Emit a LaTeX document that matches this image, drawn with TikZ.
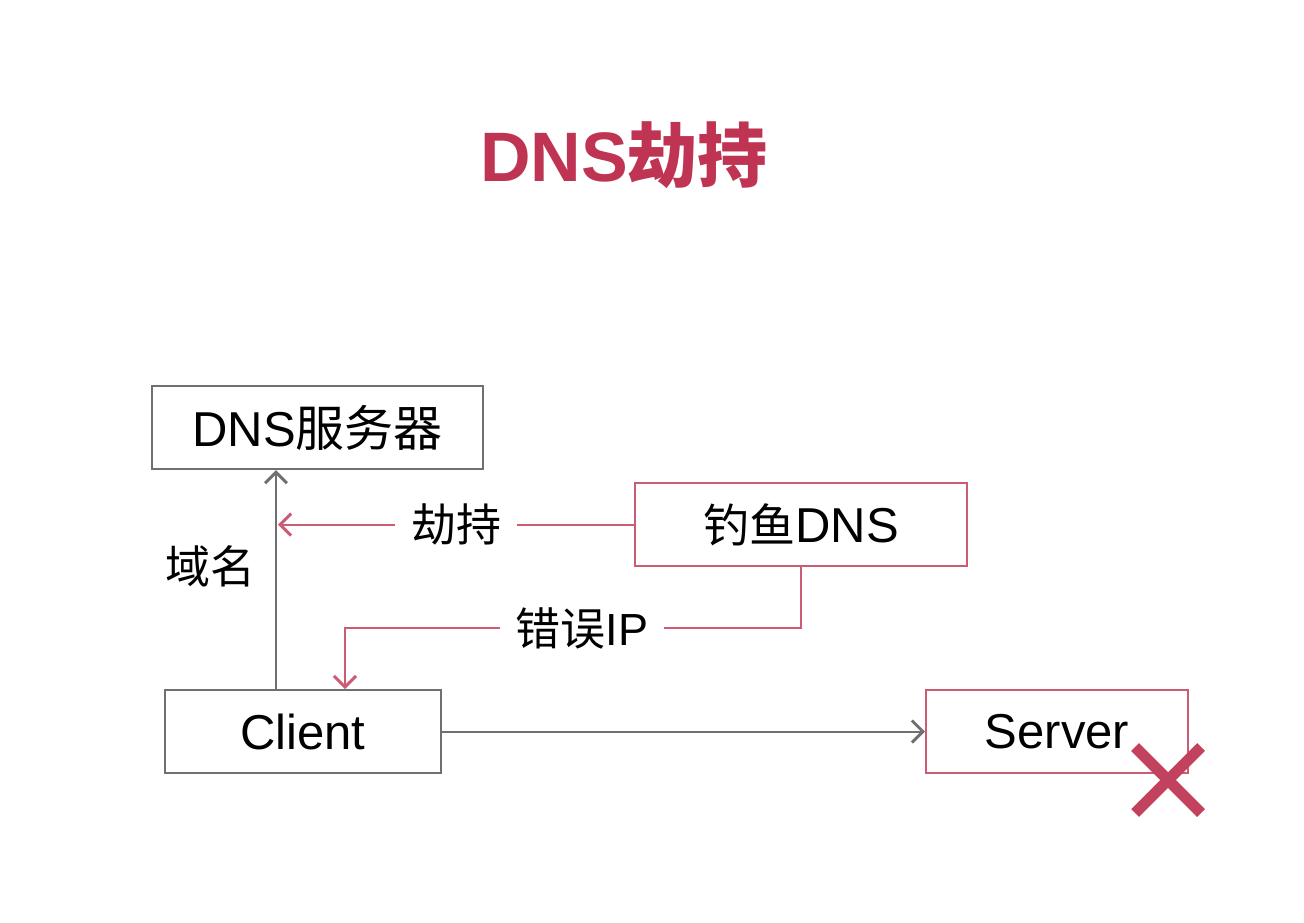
\documentclass[tikz,border=0pt]{standalone}
\usepackage{fontspec}
\setmainfont{Liberation Sans}
\newfontfamily\cjk{Noto Sans CJK SC}
\usetikzlibrary{arrows.meta,calc}
\definecolor{titlered}{HTML}{BF3452}
\definecolor{pinkline}{HTML}{CC5C74}
\definecolor{grayline}{HTML}{707070}
\definecolor{xred}{HTML}{C2415C}
\tikzset{
  box/.style={draw=grayline, line width=1pt, minimum width=#1, minimum height=41.5pt, inner sep=0pt},
  pinkbox/.style={box=#1, draw=pinkline},
  txt/.style={font=\fontsize{22.5}{26}\selectfont},
  boxtxt/.style={font=\fontsize{24.5}{28}\selectfont},
  graytip/.style={draw=grayline, line width=1pt, -{Straight Barb[length=5.5pt,width=11pt,line width=1.5pt]}},
  pinktip/.style={draw=pinkline, line width=1pt, -{Straight Barb[length=5.5pt,width=11pt,line width=1.5pt]}},
  lbl/.style={fill=white, inner xsep=8pt, inner ysep=2pt, txt}
}
\begin{document}
\begin{tikzpicture}[x=0.5pt,y=-0.5pt]
\useasboundingbox (0,0) rectangle (1304,922);
\node[font=\fontsize{35}{40}\selectfont\bfseries, text=titlered] (title) at (624,155) {DNS{\cjk\bfseries 劫持}};
\node[box=165.5pt, font=\fontsize{24.5}{28}\selectfont] (dns) at (317.5,427.5) {DNS{\cjk 服务器}};
\node[pinkbox=166pt, boxtxt] (fish) at (801,524.5) {{\cjk\fontsize{23}{26}\selectfont 钓鱼}DNS};
\node[box=138pt, boxtxt] (client) at (303,731.5) {Client};
\node[pinkbox=131pt, boxtxt] (server) at (1057,731.5) {Server};
\node[txt] (yuming) at (210,566) {\cjk 域名};
\coordinate (gx) at (276,0);
\coordinate (hit) at (278,524.5);
\coordinate (c1) at (801,628);
\coordinate (c2) at (345,628);
\draw[graytip] (client.north -| gx) -- (dns.south -| gx);
\draw[pinktip] (fish.west) -- node[lbl] (jiechi) {\cjk 劫持} (hit);
\draw[pinktip] (fish.south) -- (c1) -- node[lbl, pos=0.48] (cuowu) {{\cjk 错误}IP} (c2) -- (client.north -| c2);
\draw[graytip] (client.east) -- (server.west);
\coordinate (xc) at (1168,780);
\draw[xred, line width=5.5pt] ($(xc)+(-33,-33)$) -- ($(xc)+(33,33)$) ($(xc)+(33,-33)$) -- ($(xc)+(-33,33)$);
\end{tikzpicture}
\end{document}
